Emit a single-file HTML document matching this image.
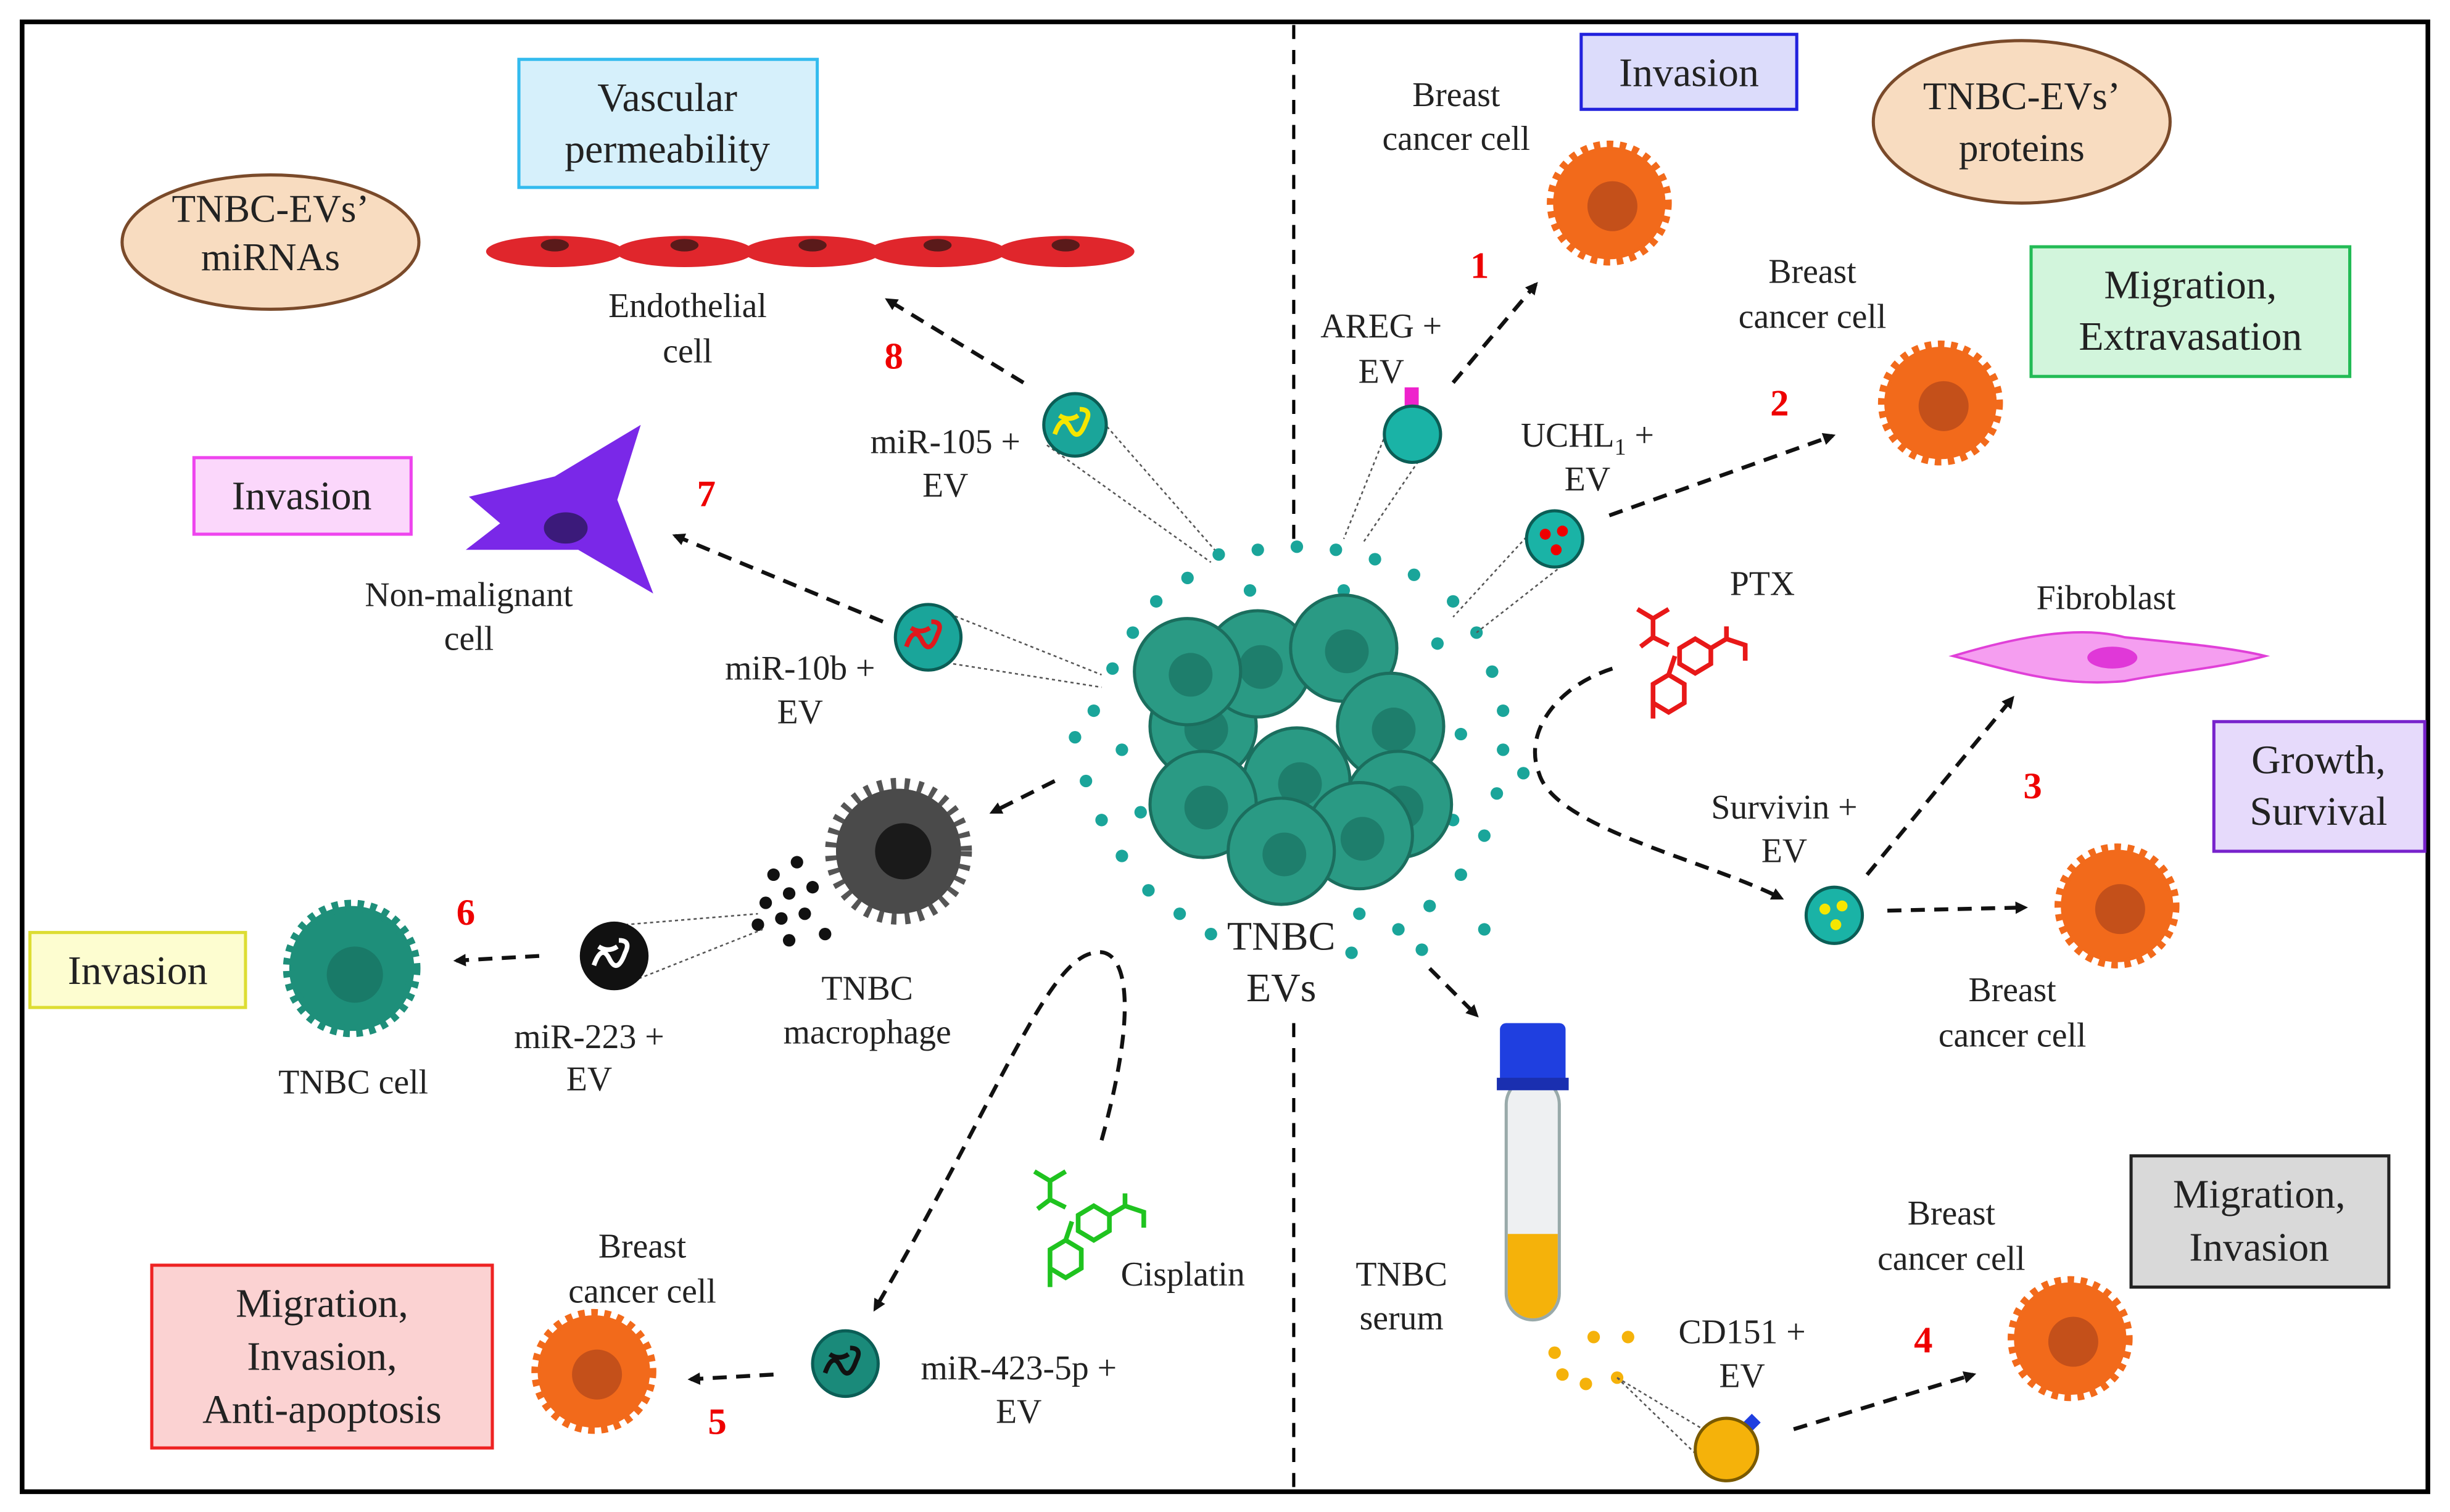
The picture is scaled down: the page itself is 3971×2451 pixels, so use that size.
<!DOCTYPE html>
<html><head><meta charset="utf-8"><style>
html,body{margin:0;padding:0;background:#fff}
svg{display:block}
text{font-family:"Liberation Serif",serif;fill:#222}
.r{fill:#e00;font-weight:bold}
</style></head><body>
<svg width="3971" height="2451" viewBox="0 0 1568 968" xmlns="http://www.w3.org/2000/svg">
<defs>
<marker id="ah" markerWidth="8" markerHeight="8" refX="6" refY="4" orient="auto" markerUnits="userSpaceOnUse"><path d="M0,0 L8,4 L0,8 Z" fill="#111"/></marker>
<g id="bc"><circle r="36" fill="#f26a1b" stroke="#f26a1b" stroke-width="8" stroke-dasharray="4 4"/><circle r="34" fill="#f26a1b"/><circle cx="2" cy="2" r="16" fill="#c4501a"/></g>
<g id="tc"><circle r="40" fill="#1e8f7a" stroke="#1e8f7a" stroke-width="8" stroke-dasharray="4 4"/><circle cx="2" cy="4" r="18" fill="#197a68"/></g>
<g id="cl"><circle r="34" fill="#2a9a84" stroke="#1b6e5e" stroke-width="2"/><circle cx="2" cy="2" r="14" fill="#1e7e6c"/></g>
</defs>
<rect width="1568" height="968" fill="#fff"/>
<rect x="14" y="14" width="1540" height="941" fill="none" stroke="#000" stroke-width="3"/>
<line x1="828" y1="16" x2="828" y2="345" stroke="#000" stroke-width="2" stroke-dasharray="9 7"/>
<line x1="828" y1="655" x2="828" y2="953" stroke="#000" stroke-width="2" stroke-dasharray="9 7"/>

<!-- left top -->
<rect x="332" y="38" width="191" height="82" fill="#d6f0fb" stroke="#33bbee" stroke-width="2"/>
<text x="427" y="71" font-size="26" text-anchor="middle">Vascular</text>
<text x="427" y="104" font-size="26" text-anchor="middle">permeability</text>
<ellipse cx="173" cy="155" rx="95" ry="43" fill="#f8dcc0" stroke="#7a4a2a" stroke-width="2"/>
<text x="173" y="142" font-size="25" text-anchor="middle">TNBC-EVs’</text>
<text x="173" y="173" font-size="25" text-anchor="middle">miRNAs</text>
<g fill="#e0262c">
<ellipse cx="355" cy="161" rx="44" ry="10"/><ellipse cx="438" cy="161" rx="44" ry="10"/><ellipse cx="520" cy="161" rx="44" ry="10"/><ellipse cx="600" cy="161" rx="44" ry="10"/><ellipse cx="682" cy="161" rx="44" ry="10"/></g>
<g fill="#5a1a1a"><ellipse cx="355" cy="157" rx="9" ry="4"/><ellipse cx="438" cy="157" rx="9" ry="4"/><ellipse cx="520" cy="157" rx="9" ry="4"/><ellipse cx="600" cy="157" rx="9" ry="4"/><ellipse cx="682" cy="157" rx="9" ry="4"/></g>
<text x="440" y="203" font-size="22" text-anchor="middle">Endothelial</text>
<text x="440" y="232" font-size="22" text-anchor="middle">cell</text>
<text x="572" y="236" font-size="24" class="r" text-anchor="middle">8</text>
<line x1="655" y1="245" x2="568" y2="192" stroke="#111" stroke-width="2.5" stroke-dasharray="9 6" marker-end="url(#ah)"/>
<g stroke="#555" stroke-width="1" stroke-dasharray="2 2"><line x1="690" y1="252" x2="780" y2="355"/><line x1="670" y1="285" x2="775" y2="360"/></g>
<circle cx="688" cy="272" r="20" fill="#1aa59a" stroke="#0b5e56" stroke-width="2"/>
<path d="M675,278 q5,-14 10,-4 q5,10 10,-4 q4,-8 -4,-8 M678,266 q6,4 12,0" stroke="#f5e600" stroke-width="3" fill="none"/>
<text x="605" y="290" font-size="22" text-anchor="middle">miR-105 +</text>
<text x="605" y="318" font-size="22" text-anchor="middle">EV</text>

<rect x="124" y="293" width="139" height="49" fill="#fbd7fb" stroke="#ee44ee" stroke-width="2"/>
<text x="193" y="326" font-size="26" text-anchor="middle">Invasion</text>
<path d="M300,318 L355,305 L410,272 L395,320 L418,380 L370,352 L298,352 L320,335 Z" fill="#7a28e8"/>
<ellipse cx="362" cy="338" rx="14" ry="10" fill="#3b1a7a"/>
<text x="452" y="324" font-size="24" class="r" text-anchor="middle">7</text>
<text x="300" y="388" font-size="22" text-anchor="middle">Non-malignant</text>
<text x="300" y="416" font-size="22" text-anchor="middle">cell</text>
<line x1="565" y1="398" x2="432" y2="343" stroke="#111" stroke-width="2.5" stroke-dasharray="9 6" marker-end="url(#ah)"/>
<g stroke="#555" stroke-width="1" stroke-dasharray="2 2"><line x1="600" y1="390" x2="705" y2="432"/><line x1="610" y1="425" x2="705" y2="440"/></g>
<circle cx="594" cy="408" r="21" fill="#1aa59a" stroke="#0b5e56" stroke-width="2"/>
<path d="M580,414 q5,-14 10,-4 q5,10 10,-4 q4,-8 -4,-8 M583,402 q6,4 12,0" stroke="#e0181c" stroke-width="3" fill="none"/>
<text x="512" y="435" font-size="22" text-anchor="middle">miR-10b +</text>
<text x="512" y="463" font-size="22" text-anchor="middle">EV</text>

<!-- macrophage -->
<circle cx="575" cy="545" r="40" fill="#555" stroke="#555" stroke-width="14" stroke-dasharray="3 5"/>
<circle cx="575" cy="545" r="40" fill="#4a4a4a"/>
<circle cx="578" cy="545" r="18" fill="#1a1a1a"/>
<g fill="#111"><circle cx="495" cy="560" r="4"/><circle cx="510" cy="552" r="4"/><circle cx="490" cy="578" r="4"/><circle cx="505" cy="572" r="4"/><circle cx="520" cy="568" r="4"/><circle cx="485" cy="592" r="4"/><circle cx="500" cy="588" r="4"/><circle cx="515" cy="585" r="4"/><circle cx="528" cy="598" r="4"/><circle cx="505" cy="602" r="4"/></g>
<line x1="675" y1="500" x2="635" y2="520" stroke="#111" stroke-width="2.5" stroke-dasharray="9 6" marker-end="url(#ah)"/>
<text x="555" y="640" font-size="22" text-anchor="middle">TNBC</text>
<text x="555" y="668" font-size="22" text-anchor="middle">macrophage</text>
<g stroke="#555" stroke-width="1" stroke-dasharray="2 2"><line x1="400" y1="592" x2="485" y2="585"/><line x1="405" y1="628" x2="488" y2="595"/></g>
<circle cx="393" cy="612" r="22" fill="#111"/>
<path d="M380,618 q5,-14 10,-4 q5,10 10,-4 q4,-8 -4,-8 M383,606 q6,4 12,0" stroke="#fff" stroke-width="3" fill="none"/>
<text x="377" y="671" font-size="22" text-anchor="middle">miR-223 +</text>
<text x="377" y="698" font-size="22" text-anchor="middle">EV</text>
<text x="298" y="592" font-size="24" class="r" text-anchor="middle">6</text>
<line x1="345" y1="612" x2="292" y2="615" stroke="#111" stroke-width="2.5" stroke-dasharray="9 6" marker-end="url(#ah)"/>
<use href="#tc" x="225" y="620"/>
<text x="226" y="700" font-size="22" text-anchor="middle">TNBC cell</text>
<rect x="19" y="597" width="138" height="48" fill="#fdfdd0" stroke="#dddd33" stroke-width="2"/>
<text x="88" y="630" font-size="26" text-anchor="middle">Invasion</text>

<!-- center cluster -->
<g fill="#1aa59a">
<circle cx="780" cy="355" r="4"/><circle cx="805" cy="352" r="4"/><circle cx="830" cy="350" r="4"/><circle cx="855" cy="352" r="4"/><circle cx="880" cy="358" r="4"/><circle cx="905" cy="368" r="4"/><circle cx="930" cy="385" r="4"/><circle cx="945" cy="405" r="4"/><circle cx="955" cy="430" r="4"/><circle cx="962" cy="455" r="4"/><circle cx="962" cy="480" r="4"/><circle cx="958" cy="508" r="4"/><circle cx="950" cy="535" r="4"/><circle cx="935" cy="560" r="4"/><circle cx="915" cy="580" r="4"/><circle cx="895" cy="595" r="4"/><circle cx="870" cy="585" r="4"/><circle cx="760" cy="370" r="4"/><circle cx="740" cy="385" r="4"/><circle cx="725" cy="405" r="4"/><circle cx="712" cy="428" r="4"/><circle cx="700" cy="455" r="4"/><circle cx="688" cy="472" r="4"/><circle cx="695" cy="500" r="4"/><circle cx="705" cy="525" r="4"/><circle cx="718" cy="548" r="4"/><circle cx="735" cy="570" r="4"/><circle cx="755" cy="585" r="4"/><circle cx="775" cy="598" r="4"/><circle cx="800" cy="378" r="4"/><circle cx="860" cy="378" r="4"/><circle cx="920" cy="412" r="4"/><circle cx="935" cy="470" r="4"/><circle cx="930" cy="525" r="4"/><circle cx="718" cy="480" r="4"/><circle cx="730" cy="520" r="4"/><circle cx="950" cy="595" r="4"/><circle cx="910" cy="608" r="4"/><circle cx="865" cy="610" r="4"/><circle cx="825" cy="575" r="4"/><circle cx="975" cy="495" r="4"/>
</g>
<use href="#cl" x="770" y="465"/><use href="#cl" x="805" y="425"/><use href="#cl" x="860" y="415"/><use href="#cl" x="890" y="465"/><use href="#cl" x="830" y="500"/><use href="#cl" x="770" y="515"/><use href="#cl" x="895" y="515"/><use href="#cl" x="870" y="535"/><use href="#cl" x="820" y="545"/><use href="#cl" x="760" y="430"/>
<text x="820" y="608" font-size="26" text-anchor="middle">TNBC</text>
<text x="820" y="641" font-size="26" text-anchor="middle">EVs</text>

<!-- bottom left -->
<path d="M705,730 C730,640 720,605 700,610 C670,615 640,700 560,838" stroke="#111" stroke-width="2.5" stroke-dasharray="9 6" fill="none" marker-end="url(#ah)"/>
<g stroke="#1fc31f" stroke-width="3" fill="none">
<path d="M662,750 l10,6 l10,-6 M672,756 l0,12 l-8,6 M672,768 l10,5 M690,778 l10,-6 l10,6 l0,10 l-10,6 l-10,-6 z M710,778 l10,-6 l12,4 l0,10 M720,772 l0,-8 M672,800 l10,-6 l10,6 l0,12 l-10,6 l-10,-6 z M682,794 l4,-12 M672,812 l0,12"/></g>
<text x="757" y="823" font-size="22" text-anchor="middle">Cisplatin</text>
<circle cx="541" cy="873" r="21" fill="#1a8a7a" stroke="#0b5e56" stroke-width="2"/>
<path d="M528,879 q5,-14 10,-4 q5,10 10,-4 q4,-8 -4,-8 M531,867 q6,4 12,0" stroke="#111" stroke-width="3" fill="none"/>
<text x="652" y="883" font-size="22" text-anchor="middle">miR-423-5p +</text>
<text x="652" y="911" font-size="22" text-anchor="middle">EV</text>
<line x1="495" y1="880" x2="442" y2="883" stroke="#111" stroke-width="2.5" stroke-dasharray="9 6" marker-end="url(#ah)"/>
<text x="459" y="918" font-size="24" class="r" text-anchor="middle">5</text>
<use href="#bc" x="380" y="878"/>
<text x="411" y="805" font-size="22" text-anchor="middle">Breast</text>
<text x="411" y="834" font-size="22" text-anchor="middle">cancer cell</text>
<rect x="97" y="810" width="218" height="117" fill="#fbd2d2" stroke="#ee2222" stroke-width="2"/>
<text x="206" y="843" font-size="26" text-anchor="middle">Migration,</text>
<text x="206" y="877" font-size="26" text-anchor="middle">Invasion,</text>
<text x="206" y="911" font-size="26" text-anchor="middle">Anti-apoptosis</text>

<!-- right top -->
<rect x="1012" y="22" width="138" height="48" fill="#dcdcfb" stroke="#2222dd" stroke-width="2"/>
<text x="1081" y="55" font-size="26" text-anchor="middle">Invasion</text>
<ellipse cx="1294" cy="78" rx="95" ry="52" fill="#f8dcc0" stroke="#7a4a2a" stroke-width="2"/>
<text x="1294" y="70" font-size="25" text-anchor="middle">TNBC-EVs’</text>
<text x="1294" y="103" font-size="25" text-anchor="middle">proteins</text>
<text x="932" y="68" font-size="22" text-anchor="middle">Breast</text>
<text x="932" y="96" font-size="22" text-anchor="middle">cancer cell</text>
<use href="#bc" x="1030" y="130"/>
<text x="947" y="178" font-size="24" class="r" text-anchor="middle">1</text>
<line x1="930" y1="245" x2="983" y2="182" stroke="#111" stroke-width="2.5" stroke-dasharray="9 6" marker-end="url(#ah)"/>
<text x="884" y="216" font-size="22" text-anchor="middle">AREG +</text>
<text x="884" y="245" font-size="22" text-anchor="middle">EV</text>
<g stroke="#555" stroke-width="1" stroke-dasharray="2 2"><line x1="890" y1="270" x2="860" y2="345"/><line x1="910" y1="292" x2="872" y2="348"/></g>
<rect x="899" y="248" width="9" height="20" fill="#ee22cc"/>
<circle cx="904" cy="278" r="18" fill="#1ab3a6" stroke="#0b5e56" stroke-width="2"/>
<text x="1160" y="181" font-size="22" text-anchor="middle">Breast</text>
<text x="1160" y="210" font-size="22" text-anchor="middle">cancer cell</text>
<use href="#bc" x="1242" y="258"/>
<rect x="1300" y="158" width="204" height="83" fill="#d2f5dc" stroke="#22bb55" stroke-width="2"/>
<text x="1402" y="191" font-size="26" text-anchor="middle">Migration,</text>
<text x="1402" y="224" font-size="26" text-anchor="middle">Extravasation</text>
<text x="1139" y="266" font-size="24" class="r" text-anchor="middle">2</text>
<line x1="1030" y1="330" x2="1173" y2="279" stroke="#111" stroke-width="2.5" stroke-dasharray="9 6" marker-end="url(#ah)"/>
<text x="1016" y="286" font-size="22" text-anchor="middle">UCHL<tspan font-size="15" dy="5">1</tspan><tspan dy="-5"> +</tspan></text>
<text x="1016" y="314" font-size="22" text-anchor="middle">EV</text>
<g stroke="#555" stroke-width="1" stroke-dasharray="2 2"><line x1="985" y1="335" x2="930" y2="395"/><line x1="1000" y1="362" x2="945" y2="405"/></g>
<circle cx="995" cy="345" r="18" fill="#1ab3a6" stroke="#0b5e56" stroke-width="2"/>
<g fill="#e00"><circle cx="989" cy="342" r="3.5"/><circle cx="1000" cy="340" r="3.5"/><circle cx="996" cy="352" r="3.5"/></g>
<g stroke="#e81818" stroke-width="3" fill="none">
<path d="M1048,390 l10,6 l10,-6 M1058,396 l0,12 l-8,6 M1058,408 l10,5 M1075,415 l10,-6 l10,6 l0,10 l-10,6 l-10,-6 z M1095,415 l10,-6 l12,4 l0,10 M1105,409 l0,-8 M1058,438 l10,-6 l10,6 l0,12 l-10,6 l-10,-6 z M1068,432 l4,-12 M1058,450 l0,10"/></g>
<text x="1128" y="381" font-size="22" text-anchor="middle">PTX</text>
<text x="1348" y="390" font-size="22" text-anchor="middle">Fibroblast</text>
<path d="M1250,420 C1290,408 1330,400 1360,408 C1400,412 1430,415 1450,420 C1420,428 1390,430 1360,436 C1320,440 1290,430 1250,420 Z" fill="#f59ef0" stroke="#e040d8" stroke-width="1.5"/>
<ellipse cx="1352" cy="421" rx="16" ry="7" fill="#e038d8"/>
<rect x="1417" y="462" width="135" height="83" fill="#e6dafb" stroke="#7722cc" stroke-width="2"/>
<text x="1484" y="495" font-size="26" text-anchor="middle">Growth,</text>
<text x="1484" y="528" font-size="26" text-anchor="middle">Survival</text>
<text x="1301" y="511" font-size="24" class="r" text-anchor="middle">3</text>
<path d="M1032,428 C995,440 975,470 985,495 C995,530 1090,550 1140,575" stroke="#111" stroke-width="2.5" stroke-dasharray="9 6" fill="none" marker-end="url(#ah)"/>
<text x="1142" y="524" font-size="22" text-anchor="middle">Survivin +</text>
<text x="1142" y="552" font-size="22" text-anchor="middle">EV</text>
<circle cx="1174" cy="586" r="18" fill="#1ab3a6" stroke="#0b5e56" stroke-width="2"/>
<g fill="#f5e600"><circle cx="1168" cy="582" r="3.5"/><circle cx="1179" cy="580" r="3.5"/><circle cx="1175" cy="592" r="3.5"/></g>
<line x1="1195" y1="560" x2="1288" y2="447" stroke="#111" stroke-width="2.5" stroke-dasharray="9 6" marker-end="url(#ah)"/>
<line x1="1208" y1="583" x2="1296" y2="581" stroke="#111" stroke-width="2.5" stroke-dasharray="9 6" marker-end="url(#ah)"/>
<use href="#bc" x="1355" y="580"/>
<text x="1288" y="641" font-size="22" text-anchor="middle">Breast</text>
<text x="1288" y="670" font-size="22" text-anchor="middle">cancer cell</text>

<!-- bottom right -->
<line x1="915" y1="620" x2="945" y2="650" stroke="#111" stroke-width="2.5" stroke-dasharray="9 6" marker-end="url(#ah)"/>
<rect x="964" y="690" width="34" height="155" rx="17" fill="#eef0f2" stroke="#9aa" stroke-width="2"/>
<path d="M965,790 L997,790 L997,828 A16,16 0 0 1 965,828 Z" fill="#f5b20a"/>
<rect x="960" y="655" width="42" height="40" rx="4" fill="#1f3fe0"/>
<rect x="958" y="690" width="46" height="8" fill="#1a2fb0"/>
<text x="897" y="823" font-size="22" text-anchor="middle">TNBC</text>
<text x="897" y="851" font-size="22" text-anchor="middle">serum</text>
<g fill="#f5b20a"><circle cx="995" cy="866" r="4"/><circle cx="1020" cy="856" r="4"/><circle cx="1042" cy="856" r="4"/><circle cx="1000" cy="880" r="4"/><circle cx="1015" cy="886" r="4"/><circle cx="1035" cy="882" r="4"/></g>
<g stroke="#555" stroke-width="1" stroke-dasharray="2 2"><line x1="1035" y1="882" x2="1090" y2="915"/><line x1="1035" y1="882" x2="1100" y2="945"/></g>
<rect x="1113" y="905" width="8" height="20" fill="#1f3fe0" transform="rotate(45 1117 915)"/>
<circle cx="1105" cy="928" r="20" fill="#f5b20a" stroke="#7a5a00" stroke-width="2"/>
<text x="1115" y="860" font-size="22" text-anchor="middle">CD151 +</text>
<text x="1115" y="888" font-size="22" text-anchor="middle">EV</text>
<line x1="1148" y1="915" x2="1263" y2="880" stroke="#111" stroke-width="2.5" stroke-dasharray="9 6" marker-end="url(#ah)"/>
<text x="1231" y="866" font-size="24" class="r" text-anchor="middle">4</text>
<use href="#bc" x="1325" y="857"/>
<text x="1249" y="784" font-size="22" text-anchor="middle">Breast</text>
<text x="1249" y="813" font-size="22" text-anchor="middle">cancer cell</text>
<rect x="1364" y="740" width="165" height="84" fill="#d9d9d9" stroke="#222" stroke-width="2"/>
<text x="1446" y="773" font-size="26" text-anchor="middle">Migration,</text>
<text x="1446" y="807" font-size="26" text-anchor="middle">Invasion</text>
</svg>
</body></html>
